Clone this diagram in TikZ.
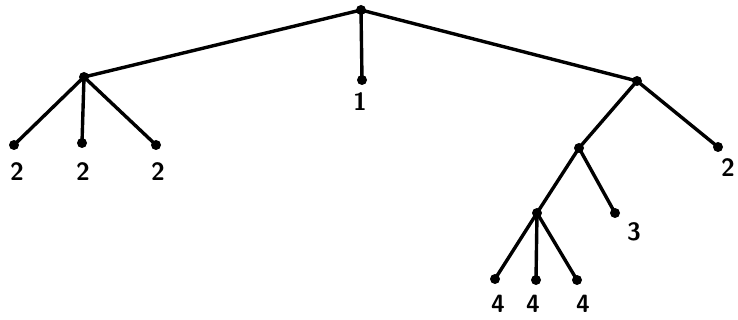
\documentclass[tikz,border=0pt]{standalone}
\usepackage{tikz}
\usetikzlibrary{positioning}

\begin{document}
\begin{tikzpicture}[
  x=1pt, y=-1pt,
  dot/.style={circle, fill, inner sep=0pt, minimum size=10pt},
  lab/.style={font=\fontsize{25}{27}\sffamily\bfseries, inner sep=1pt},
  edge/.style={line width=3.4pt, line cap=round}]
  \useasboundingbox (0,0) rectangle (738,320);
  \node[dot] (root) at (361,10) {};
  \node[dot] (left) at (84,77) {};
  \node[dot] (mid) at (362,80) {};
  \node[dot] (right) at (637,81) {};
  \node[dot] (la) at (14,145) {};
  \node[dot] (lb) at (82,143) {};
  \node[dot] (lc) at (156,145) {};
  \node[dot] (ra) at (579,148) {};
  \node[dot] (rb) at (718,147) {};
  \node[dot] (sa) at (537,213) {};
  \node[dot] (sb) at (615,213) {};
  \node[dot] (ta) at (495,279) {};
  \node[dot] (tb) at (536,280) {};
  \node[dot] (tc) at (577,280) {};
  \draw[edge] (root.center) -- (left.center);
  \draw[edge] (root.center) -- (mid.center);
  \draw[edge] (root.center) -- (right.center);
  \draw[edge] (left.center) -- (la.center);
  \draw[edge] (left.center) -- (lb.center);
  \draw[edge] (left.center) -- (lc.center);
  \draw[edge] (right.center) -- (ra.center);
  \draw[edge] (right.center) -- (rb.center);
  \draw[edge] (ra.center) -- (sa.center);
  \draw[edge] (ra.center) -- (sb.center);
  \draw[edge] (sa.center) -- (ta.center);
  \draw[edge] (sa.center) -- (tb.center);
  \draw[edge] (sa.center) -- (tc.center);
  \node[lab] (nmid) at (360,102) {1};
  \node[lab] (nla) at (17,172) {2};
  \node[lab] (nlb) at (83,172) {2};
  \node[lab] (nlc) at (158,172) {2};
  \node[lab] (nrb) at (728,168) {2};
  \node[lab] (nsb) at (634,232) {3};
  \node[lab] (nta) at (498,304) {4};
  \node[lab] (ntb) at (533,304) {4};
  \node[lab] (ntc) at (583,304) {4};
\end{tikzpicture}
\end{document}
